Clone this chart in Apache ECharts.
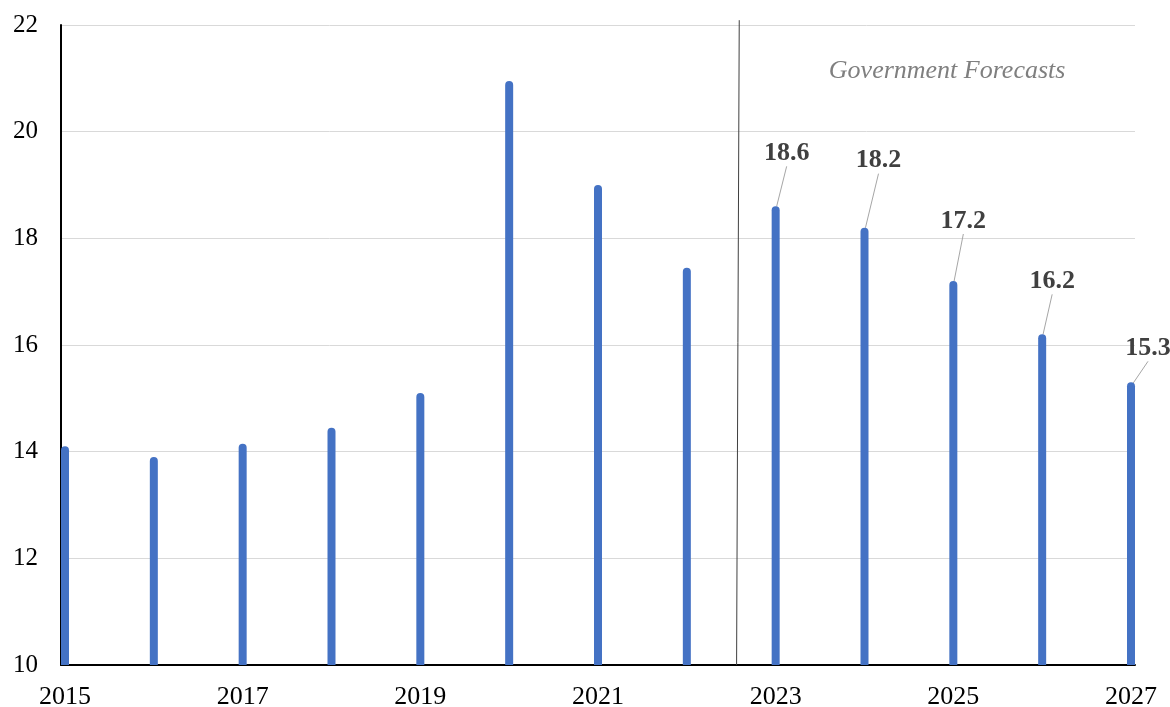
<!DOCTYPE html>
<html>
<head>
<meta charset="utf-8">
<script src="https://cdn.jsdelivr.net/npm/echarts@6/dist/echarts.min.js"></script>
<style>html,body{margin:0;padding:0;background:#fff}#c{width:1170px;height:707px}</style>
</head>
<body>
<div id="c"></div>
<script>
const years = [2015,2016,2017,2018,2019,2020,2021,2022,2023,2024,2025,2026,2027];
const values = [14.1,13.9,14.15,14.45,15.1,20.95,19.0,17.45,18.6,18.2,17.2,16.2,15.3];
const forecastStart = 2023;
const xTickLabels = [2015,2017,2019,2021,2023,2025,2027];
const yTicks = {min:10, max:22, interval:2};
const annotationText = 'Government Forecasts';
const annotationPos = [2024.93, 21.14];
const dividerLine = [[2022.59, 22.09],[2022.56, 10]];

const labelOffsets = {8:[11,-35], 9:[14,-49], 10:[10,-42], 11:[10,-35], 12:[17,-16]};

const data = years.map((y,i)=>{
  const item = {value:[y, values[i]]};
  if (y >= forecastStart) {
    item.label = {show:true};
    item.labelLine = {show:true};
  }
  return item;
});

const chart = echarts.init(document.getElementById('c'), null, {renderer:'canvas'});
chart.setOption({
  animation:false,
  backgroundColor:'#fff',
  textStyle:{fontFamily:'Liberation Serif'},
  grid:{left:61, right:35, top:25, bottom:42, containLabel:false, outerBoundsMode:'none'},
  xAxis:{
    type:'value', min:2015-0.045, max:2027+0.045,
    axisLine:{show:true, lineStyle:{color:'#000', width:2}},
    axisTick:{show:false},
    splitLine:{show:false},
    axisLabel:{customValues:xTickLabels, fontSize:26, color:'#000', margin:19, fontFamily:'Liberation Serif', formatter:v=>String(Math.round(v))}
  },
  yAxis:{
    type:'value', min:yTicks.min, max:yTicks.max, interval:yTicks.interval,
    axisLine:{show:true, lineStyle:{color:'#000', width:2}},
    axisTick:{show:false},
    splitLine:{show:true, lineStyle:{color:'#d9d9d9', width:1}},
    axisLabel:{fontSize:25, color:'#000', margin:23, fontFamily:'Liberation Serif'}
  },
  series:[{
    type:'bar',
    barWidth:8,
    z:3,
    itemStyle:{color:'#4472c4', borderRadius:[4,4,0,0]},
    data:data,
    label:{show:false, position:'top', distance:5, fontSize:26, fontWeight:'bold', color:'#404040', fontFamily:'Liberation Serif', formatter:p=>p.value[1].toFixed(1)},
    labelLine:{show:false, lineStyle:{color:'#a6a6a6', width:1}},
    labelLayout:function(p){
      const o = labelOffsets[p.dataIndex];
      return o ? {dx:o[0], dy:o[1]} : {};
    },
    markPoint:{
      silent:true, symbol:'circle', symbolSize:0,
      data:[{coord:annotationPos}],
      label:{show:true, position:'inside', formatter:annotationText, fontSize:26, fontStyle:'italic', color:'#7f7f7f', fontFamily:'Liberation Serif'}
    }
  },{
    type:'custom',
    silent:true,
    z:2,
    data:[0],
    renderItem:function(params, api){
      const a = api.coord(dividerLine[0]);
      const b = api.coord(dividerLine[1]);
      return {type:'line', shape:{x1:a[0], y1:a[1], x2:b[0], y2:b[1]}, style:{stroke:'#404040', lineWidth:1}};
    }
  }]
});
</script>
</body>
</html>
